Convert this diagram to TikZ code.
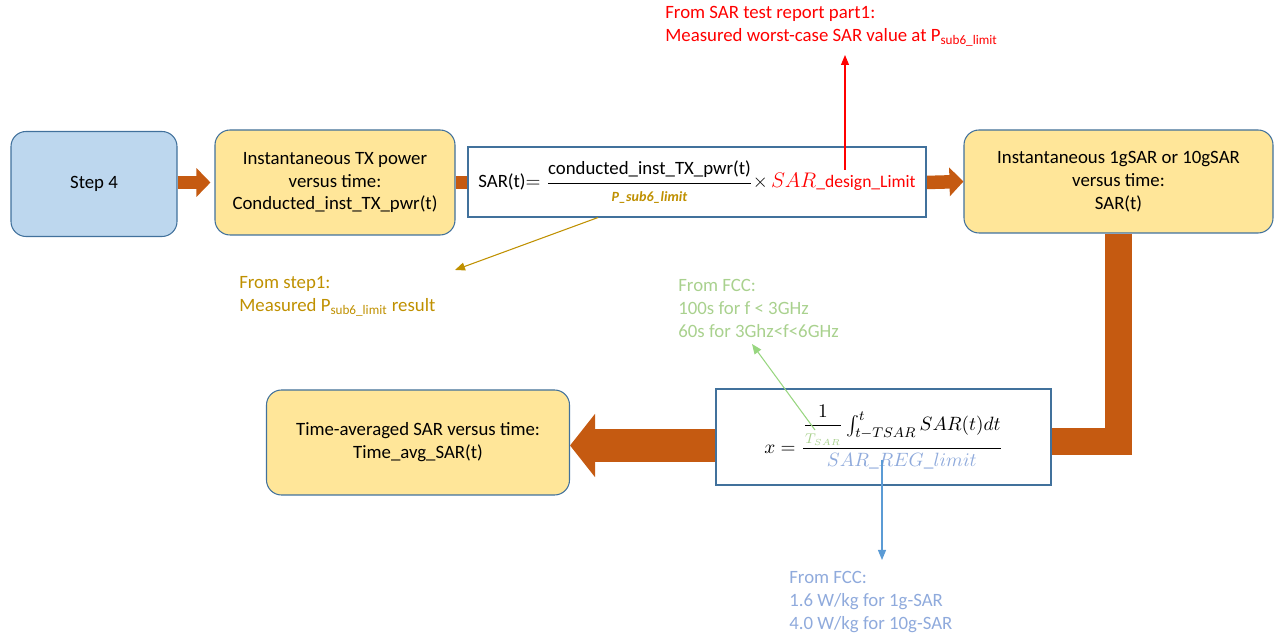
\documentclass[tikz,border=0pt]{standalone}
\usepackage{amsmath, amssymb}
\usepackage{fontspec}
\setmainfont{Carlito}
\usepackage{tikz}
\usetikzlibrary{arrows.meta, calc}

\definecolor{stepblue}{RGB}{189,215,238}
\definecolor{boxyellow}{RGB}{255,230,153}
\definecolor{boxline}{RGB}{65,113,156}
\definecolor{arrowbrown}{RGB}{197,90,17}
\definecolor{golden}{RGB}{191,144,0}
\definecolor{fccgreen}{RGB}{169,209,142}
\definecolor{fccblue}{RGB}{143,170,220}
\definecolor{fccline}{RGB}{91,155,213}

\begin{document}
\begin{tikzpicture}[
    txt/.style={font=\fontsize{10.7}{13}\selectfont},
    roundbox/.style={txt, draw=boxline, line width=0.6pt, rounded corners=0.3cm, align=center, inner sep=2pt},
    plainbox/.style={txt, draw=boxline, line width=0.6pt, fill=white, align=center, inner sep=2pt},
    note/.style={txt, align=left, inner sep=0pt, anchor=north west},
    thinarrow/.style={line width=0.6pt, -{Triangle[length=0.2cm, width=0.16cm]}},
    fatarrow/.style={arrowbrown, line width=0.27cm, -{Triangle[length=0.28cm, width=0.56cm]}},
    bigarrow/.style={arrowbrown, line width=0.66cm, -{Triangle[length=0.5cm, width=1.24cm]}}
    ]
    \useasboundingbox (0,0) rectangle (25.6,-12.74);

    \node[roundbox, fill=stepblue, minimum width=3.32cm, minimum height=2.1cm] (step4) at (1.88,-3.68) {Step 4};
    \node[roundbox, fill=boxyellow, minimum width=4.8cm, minimum height=2.1cm] (inst) at (6.70,-3.65)
        {Instantaneous TX power\\versus time:\\Conducted\_inst\_TX\_pwr(t)};
    \node[roundbox, fill=boxyellow, minimum width=6.18cm, minimum height=2.06cm] (inst1g) at (22.37,-3.63)
        {Instantaneous 1gSAR or 10gSAR\\versus time:\\SAR(t)};
    \node[roundbox, fill=boxyellow, minimum width=6.06cm, minimum height=2.1cm] (avg) at (8.36,-8.85)
        {Time-averaged SAR versus time:\\Time\_avg\_SAR(t)};

    \draw[arrowbrown, line width=0.27cm] (inst.east) -- (13.94-4.58,-3.65);
    \draw[fatarrow] (step4.east |- 0,-3.65) -- ([xshift=-0.08cm]inst.west);
    \draw[fatarrow] (13.94+4.58,-3.65) -- (inst1g.west);
    \draw[arrowbrown, line width=0.54cm, line join=miter] (inst1g.south) |- (17.67+3.35,-8.83);
    \draw[bigarrow] (17.67-3.35,-8.91) -- (avg.east |- 0,-8.91);

    \node[plainbox, minimum width=9.16cm, minimum height=1.4cm] (sarf) at (13.94,-3.64)
        {SAR(t)$=\dfrac{\text{conducted\_inst\_TX\_pwr(t)}}{\text{\color{golden}\footnotesize\bfseries\itshape P\_sub6\_limit}}\times$\,\textcolor{red}{\large$SAR$\normalsize\_design\_Limit}};
    \node[plainbox, minimum width=6.7cm, minimum height=1.92cm] (xbox) at (17.67,-8.74)
        {\fontsize{11}{13}\selectfont$x=\dfrac{\dfrac{1}{\scriptstyle\color{fccgreen}T_{SAR}}\int_{t-TSAR}^{t}SAR(t)dt}{\color{fccblue}SAR\_REG\_limit}$};

    \node[note, red] (sarnote) at (13.3,-0.12)
        {From SAR test report part1:\\Measured worst-case SAR value at P\textsubscript{sub6\_limit}};
    \node[note, golden] (stepnote) at (4.78,-5.52)
        {From step1:\\Measured P\textsubscript{sub6\_limit} result};
    \node[note, fccgreen] (greennote) at (13.56,-5.58)
        {From FCC:\\100s for f < 3GHz\\60s for 3Ghz<f<6GHz};
    \node[note, fccblue] (bluenote) at (15.78,-11.42)
        {From FCC:\\1.6 W/kg for 1g-SAR\\4.0 W/kg for 10g-SAR};

    \coordinate (redfoot) at (16.9,-3.4);
    \coordinate (redtip) at (16.9,-1.1);
    \coordinate (goldtip) at (9.1,-5.4);
    \coordinate (greenfoot) at (16.3,-8.6);
    \coordinate (greentip) at (15.04,-6.88);
    \coordinate (bluefoot) at (17.64,-9.2);
    \coordinate (bluetip) at (17.64,-11.2);

    \draw[thinarrow, draw=red, fill=red] (redfoot) -- (redtip);
    \draw[thinarrow, golden] (sarf.south -| 11.96,0) -- (goldtip);
    \draw[thinarrow, fccgreen!90!green] (greenfoot) -- (greentip);
    \draw[thinarrow, fccline] (bluefoot) -- (bluetip);
\end{tikzpicture}
\end{document}
